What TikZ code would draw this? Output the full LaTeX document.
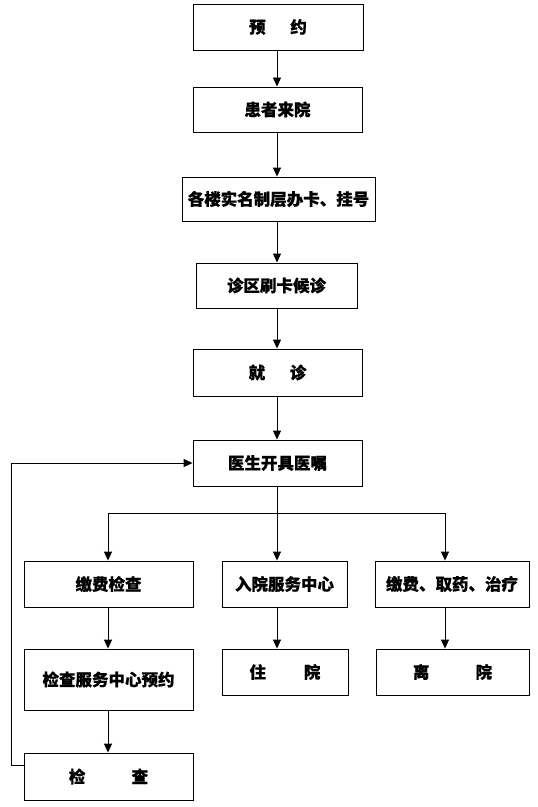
\documentclass[tikz,border=0pt]{standalone}
\usepackage{fontspec}
\setmainfont{Noto Sans CJK SC}[FakeBold=0.6]
\newfontfamily\midcjk{Noto Sans CJK SC}[FakeBold=0.25]
\usetikzlibrary{arrows.meta}
\begin{document}
\begin{tikzpicture}[x=1bp,y=-1bp,
  box/.style={draw=black,line width=0.9bp,inner sep=0pt,font=\fontsize{16.5bp}{19bp}\selectfont\bfseries},
  lightbox/.style={box,font=\fontsize{16.5bp}{19bp}\selectfont\midcjk\bfseries},
  arr/.style={draw=black,line width=0.9bp,-{Triangle[length=9bp,width=8bp]}},
  ln/.style={draw=black,line width=0.9bp}]
\useasboundingbox (0,0) rectangle (538,807);
\node[box,minimum width=170bp,minimum height=46bp] (b1) at (278,27) {预\hspace{1.5em}约};
\node[box,minimum width=169bp,minimum height=45bp] (b2) at (277.5,109.5) {患者来院};
\node[box,minimum width=193bp,minimum height=44bp] (b3) at (278.5,199) {各楼实名制层办卡、挂号};
\node[box,minimum width=161bp,minimum height=45bp] (b4) at (276.5,285.5) {诊区刷卡候诊};
\node[box,minimum width=169bp,minimum height=47bp] (b5) at (277.5,372.5) {就\hspace{1.5em}诊};
\node[box,minimum width=169bp,minimum height=46bp] (b6) at (277.5,463) {医生开具医嘱};
\node[box,minimum width=169bp,minimum height=46bp] (b7) at (108.5,584) {缴费检查};
\node[box,minimum width=125bp,minimum height=46bp] (b8) at (284.5,584) {入院服务中心};
\node[box,minimum width=154bp,minimum height=46bp] (b9) at (452,584) {缴费、取药、治疗};
\node[box,minimum width=169bp,minimum height=61bp] (b10) at (108.5,679.5) {检查服务中心预约};
\node[lightbox,minimum width=126bp,minimum height=46bp] (b11) at (285,672) {住\hspace{2.3em}院};
\node[lightbox,minimum width=153bp,minimum height=46bp] (b12) at (452.5,672) {离\hspace{2.8em}院};
\node[box,minimum width=169bp,minimum height=47bp] (b13) at (108.5,776.5) {检\hspace{2.8em}查};
\coordinate (c) at (277,0);
\coordinate (j) at (277,513);
\coordinate (l) at (108,513);
\coordinate (r) at (445,513);
\coordinate (s) at (24,765);
\coordinate (t) at (11,765);
\draw[arr] (b1.south -| c) -- (b2.north -| c);
\draw[arr] (b2.south -| c) -- (b3.north -| c);
\draw[arr] (b3.south -| c) -- (b4.north -| c);
\draw[arr] (b4.south -| c) -- (b5.north -| c);
\draw[arr] (b5.south -| c) -- (b6.north -| c);
\draw[ln] (b6.south -| c) -- (j);
\draw[arr] (j) -- (l) -- (l |- b7.north);
\draw[arr] (j) -- (j |- b8.north);
\draw[arr] (j) -- (r) -- (r |- b9.north);
\draw[arr] (l |- b7.south) -- (l |- b10.north);
\draw[arr] (l |- b10.south) -- (l |- b13.north);
\draw[arr] (j |- b8.south) -- (j |- b11.north);
\draw[arr] (r |- b9.south) -- (r |- b12.north);
\draw[arr] (s) -- (t) -- (t |- b6.west) -- (b6.west);
\end{tikzpicture}
\end{document}
